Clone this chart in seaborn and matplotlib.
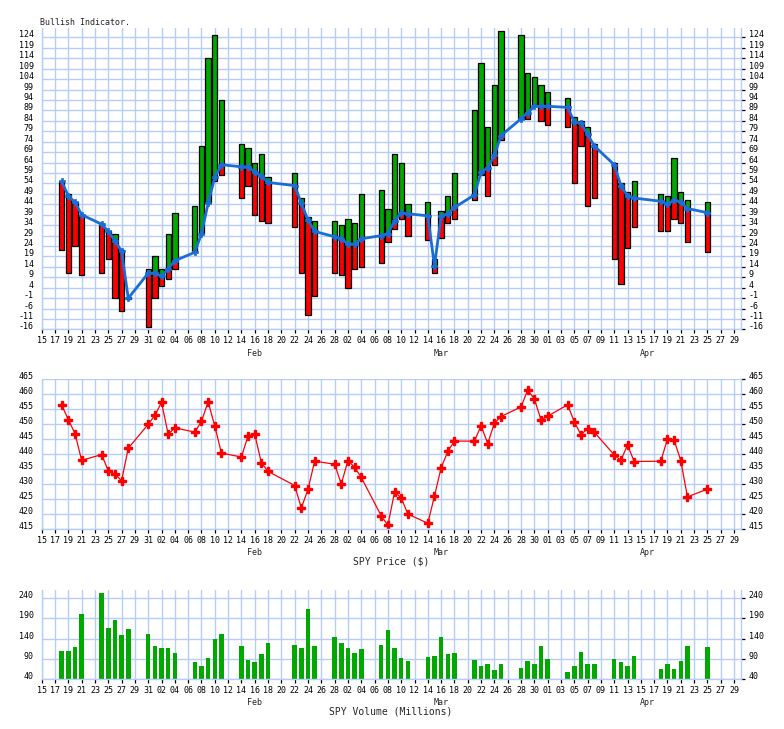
import numpy as np
import pandas as pd
import matplotlib
matplotlib.use("Agg")
import matplotlib.pyplot as plt
import seaborn as sns

# ---------------- data ----------------
dates = ['2022-01-18', '2022-01-19', '2022-01-20', '2022-01-21', '2022-01-24', '2022-01-25',
         '2022-01-26', '2022-01-27', '2022-01-28', '2022-01-31',
         '2022-02-01', '2022-02-02', '2022-02-03', '2022-02-04', '2022-02-07', '2022-02-08',
         '2022-02-09', '2022-02-10', '2022-02-11', '2022-02-14', '2022-02-15', '2022-02-16',
         '2022-02-17', '2022-02-18', '2022-02-22', '2022-02-23', '2022-02-24', '2022-02-25',
         '2022-02-28',
         '2022-03-01', '2022-03-02', '2022-03-03', '2022-03-04', '2022-03-07', '2022-03-08',
         '2022-03-09', '2022-03-10', '2022-03-11', '2022-03-14', '2022-03-15', '2022-03-16',
         '2022-03-17', '2022-03-18', '2022-03-21', '2022-03-22', '2022-03-23', '2022-03-24',
         '2022-03-25', '2022-03-28', '2022-03-29', '2022-03-30', '2022-03-31',
         '2022-04-01', '2022-04-04', '2022-04-05', '2022-04-06', '2022-04-07', '2022-04-08',
         '2022-04-11', '2022-04-12', '2022-04-13', '2022-04-14', '2022-04-18', '2022-04-19',
         '2022-04-20', '2022-04-21', '2022-04-22', '2022-04-25']

ind_low = [22, 11, 24, 10, 11, 18, -1, -7, -1.2, -15,
           -1, 5, 8, 13, 21, 30, 44.5, 55, 58, 47, 53, 39, 36, 35, 33, 11, -9, 0, 11,
           10, 4, 13, 14, 16, 26, 32, 37, 29, 27, 11, 28, 35, 37, 46, 58, 48, 63, 75, 85, 85, 91, 84,
           82, 81, 54, 72, 43, 47, 18, 6, 23, 33, 31, 31, 37, 35, 26, 21]
ind_high = [55, 49, 45, 39, 34.5, 31, 30, 22, -0.2, 13,
            19, 13, 30, 40, 43, 72, 114, 125, 94, 73, 71, 64, 68, 57, 59, 47, 38, 36, 36,
            34, 37, 35, 49, 51, 42, 68, 64, 44, 45, 18, 41, 48, 59, 89, 112, 81, 101, 127, 125, 107, 105, 101,
            98, 95, 86, 84, 81, 73, 64, 54, 50, 55, 49, 48, 66, 50, 46, 45]
ind_line = [55, 48, 45, 39, 34.5, 31, 26.5, 21.5, -1, 11,
            11, 9.5, 13, 17, 21, 30, 44.5, 57, 63, 62, 62, 59.5, 57.5, 54.5, 53, 44.5, 36.5, 31, 28.5,
            27.5, 25, 25, 27.5, 29, 30, 36, 40, 39.5, 38.5, 14.5, 38.5, 39.5, 42.5, 48.5, 59.5, 61.5, 67.5,
            77, 85, 88, 91, 91,
            91, 90.5, 83.5, 83, 77.5, 72, 63, 53, 48, 47, 45.5, 44, 46, 45, 42, 40]

price = [456.3, 451.5, 446.8, 437.9, 439.8, 434.4, 433.3, 431.1, 441.9, 449.9,
         452.9, 457.2, 446.6, 448.7, 447.3, 450.9, 457.4, 449.3, 440.3, 439.0, 446.1, 446.6,
         437.0, 434.2, 429.5, 422.0, 428.2, 437.6, 436.6,
         430.0, 437.8, 435.6, 432.2, 419.4, 416.2, 427.3, 425.4, 420.0, 416.9, 426.0, 435.4,
         440.9, 444.3, 444.3, 449.4, 443.5, 450.3, 452.5, 455.7, 461.3, 458.4, 451.4,
         452.6, 456.4, 450.8, 446.4, 448.5, 447.3, 439.7, 437.9, 443.0, 437.5, 437.6, 445.0,
         444.6, 437.8, 425.7, 428.3]

volume = [110, 110, 119, 202, 254, 167, 187, 150, 165, 152,
          123, 118, 118, 105, 83, 73, 93, 140, 152, 122, 88, 83, 103, 130, 124, 118, 214, 122, 144,
          130, 118, 105, 115, 124, 161, 118, 93, 85, 94.5, 97, 145, 103, 105, 88, 73, 78, 63, 78,
          68, 85, 78, 123,
          90, 58, 73, 108, 78, 78, 90, 83, 73, 98, 66, 76, 66, 85, 123, 120]

month_labels = ['Feb', 'Mar', 'Apr']
month_label_dates = ['2022-02-16', '2022-03-16', '2022-04-16']

# ---------------- style ----------------
sns.set_theme(style="white")
plt.rcParams['font.family'] = ['DejaVu Sans Mono', 'DejaVu Sans']

GRID = '#b6ccfa'
GREEN = '#00a800'
RED = '#ff0000'
BLUE = '#1a6dd6'

start = pd.Timestamp('2022-01-15')
day = np.array((pd.to_datetime(dates) - start).days, dtype=float)
month_x = np.array((pd.to_datetime(month_label_dates) - start).days, dtype=float)
low = np.array(ind_low, float)
high = np.array(ind_high, float)
line = np.array(ind_line, float)

W, H = 784, 729
fig = plt.figure(figsize=(W / 100, H / 100), dpi=100)


def axes_px(top, bottom):
    return fig.add_axes([41.7 / W, 1 - bottom / H, 699 / W, (bottom - top) / H])


ax1 = axes_px(28.5, 329.5)
ax2 = axes_px(379, 529)
ax3 = axes_px(590, 679)

xt = np.arange(0, 105, 2)
xt_labels = [(start + pd.Timedelta(days=int(k))).strftime('%d') for k in xt]


def style_axis(ax, yticks, ylim):
    ax.set_xlim(0, 105)
    ax.set_ylim(*ylim)
    ax.set_xticks(xt)
    ax.set_xticklabels(xt_labels)
    ax.set_yticks(yticks)
    ax.set_yticklabels([str(int(v)) for v in yticks])
    ax.set_xlabel('')
    ax.set_ylabel('')
    ax.set_axisbelow(True)
    ax.grid(True, color=GRID, linewidth=1.0)
    for side, sp in ax.spines.items():
        sp.set_color(GRID)
        sp.set_linewidth(1.0)
    ax.spines['top'].set_visible(False)
    ax.tick_params(axis='y', which='major', left=False, right=True, labelleft=True,
                   labelright=True, direction='out', length=3.2, width=0.9,
                   color='black', pad=2.6, labelsize=6, labelcolor='black')
    ax.tick_params(axis='x', which='major', bottom=True, direction='out', length=2.7,
                   width=0.9, color='black', pad=2.0, labelsize=6, labelcolor='black')
    for t in ax.yaxis.get_major_ticks():
        t.label1.set_va('baseline')
        t.label2.set_va('baseline')
    for mx, mlab in zip(month_x, month_labels):
        ax.annotate(mlab, xy=(mx, 0), xycoords=ax.get_xaxis_transform(),
                    xytext=(0, -17.2), textcoords='offset points',
                    ha='center', va='center', fontsize=6)


# ---------------- top panel: bullish indicator ----------------
red_bottom = low
red_top = np.minimum(line, high)
red_h = np.clip(red_top - red_bottom, 0, None)
green_bottom = np.maximum(line, low)
green_h = np.clip(high - green_bottom, 0, None)

mask_r = red_h > 0
mask_g = green_h > 0
ax1.bar(day[mask_r], red_h[mask_r], bottom=red_bottom[mask_r], width=0.8,
        color=RED, edgecolor='black', linewidth=0.9)
ax1.bar(day[mask_g], green_h[mask_g], bottom=green_bottom[mask_g], width=0.8,
        color=GREEN, edgecolor='black', linewidth=0.9)
sns.lineplot(x=day, y=line, ax=ax1, color=BLUE, linewidth=2.0, marker='P',
             markersize=4.5, markeredgecolor=BLUE, markeredgewidth=0.5,
             estimator=None, errorbar=None)
style_axis(ax1, np.arange(-16, 125, 5), (-16, 128.3))

# ---------------- price panel ----------------
sns.lineplot(x=day, y=price, ax=ax2, color=RED, linewidth=0.9, marker='P',
             markersize=6, markeredgecolor=RED, markeredgewidth=1.0,
             estimator=None, errorbar=None)
style_axis(ax2, np.arange(415, 466, 5), (415, 465))

# ---------------- volume panel ----------------
sns.barplot(x=day, y=volume, ax=ax3, native_scale=True, width=0.68, color=GREEN,
            saturation=1, errorbar=None, linewidth=0)
style_axis(ax3, np.arange(40, 241, 50), (40, 260.6))

# ---------------- texts ----------------
fig.text(40 / W, 1 - 22.7 / H, 'Bullish Indicator.', ha='left', va='center', fontsize=6)
fig.text(391 / W, 1 - 561.7 / H, 'SPY Price ($)', ha='center', va='center', fontsize=7)
fig.text(391 / W, 1 - 711.7 / H, 'SPY Volume (Millions)', ha='center', va='center', fontsize=7)

fig.savefig('out.png', dpi=100, facecolor='white')
